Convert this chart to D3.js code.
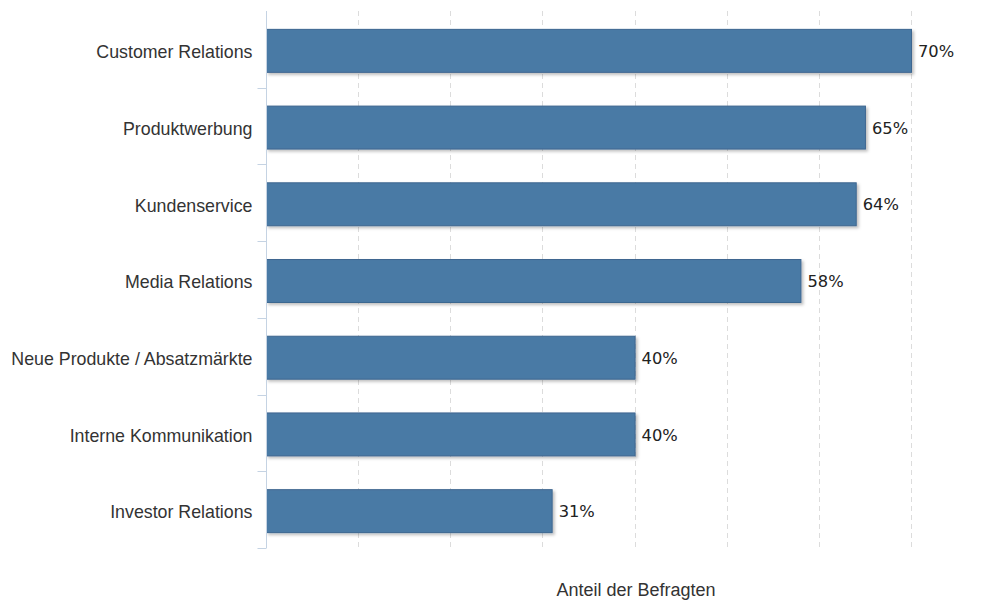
<!DOCTYPE html>
<html>
<head>
<meta charset="utf-8">
<script src="https://cdn.jsdelivr.net/npm/d3@7"></script>
<style>
  body { margin: 0; background: #fff; }
  .grid line { stroke: #dcdcdc; stroke-dasharray: 5,4; }
  .y.axis path, .y.axis line { stroke: #c5d3e3; }
  .y.axis text { font-family: "Liberation Sans", Arial, sans-serif; font-size: 17.8px; fill: #333; }
  .val { font-family: "DejaVu Sans", Verdana, sans-serif; font-size: 16.3px; fill: #222; }
  .title { font-family: "Liberation Sans", Arial, sans-serif; font-size: 18px; fill: #333; }
</style>
</head>
<body>
<div id="chart"></div>
<script>
(function () {
    "use strict";
    var categories = ["Customer Relations", "Produktwerbung", "Kundenservice", "Media Relations",
            "Neue Produkte / Absatzmärkte", "Interne Kommunikation", "Investor Relations"],
        values = [70, 65, 64, 58, 40, 40, 31],
        gridTicks = [10, 20, 30, 40, 50, 60, 70],
        axisTitle = "Anteil der Befragten",

        margin = {top: 11, left: 266},
        width = 645,
        height = 537,

        x = d3.scaleLinear().domain([0, 70]).range([0, width]),
        y = d3.scaleBand().domain(categories).range([0, height]).paddingInner(0.44).paddingOuter(0.22),

        svg = d3.select("#chart").append("svg")
            .attr("width", 998)
            .attr("height", 601),
        g = svg.append("g")
            .attr("transform", "translate(" + margin.left + "," + margin.top + ")");

    var defs = svg.append("defs");
    var f = defs.append("filter").attr("id", "shadow")
        .attr("x", "-5%").attr("y", "-20%").attr("width", "110%").attr("height", "150%");
    f.append("feDropShadow").attr("dx", 2).attr("dy", 2).attr("stdDeviation", 1.5)
        .attr("flood-color", "#000").attr("flood-opacity", 0.25);

    // dashed grid
    g.append("g").attr("class", "grid").selectAll("line")
        .data(gridTicks)
        .enter().append("line")
        .attr("x1", function (d) { return Math.round(x(d)) + 0.5; })
        .attr("x2", function (d) { return Math.round(x(d)) + 0.5; })
        .attr("y1", 0)
        .attr("y2", height);

    // bars
    g.append("g").selectAll("rect")
        .data(values)
        .enter().append("rect")
        .attr("x", 0.5)
        .attr("y", function (d, i) { return y(categories[i]) + 1.5; })
        .attr("width", function (d) { return x(d); })
        .attr("height", y.bandwidth())
        .attr("fill", "#4a7aa5")
        .attr("stroke", "#3d6690")
        .attr("stroke-width", 1)
        .attr("filter", "url(#shadow)");

    // value labels
    g.append("g").selectAll("text")
        .data(values)
        .enter().append("text")
        .attr("class", "val")
        .attr("x", function (d) { return x(d) + 7; })
        .attr("y", function (d, i) { return y(categories[i]) + y.bandwidth() / 2 + 2; })
        .attr("dy", "0.35em")
        .text(function (d) { return d + "%"; });

    // category axis with ticks between bands
    var yAxis = g.append("g")
        .attr("class", "y axis")
        .attr("transform", "translate(0.5,0)")
        .call(d3.axisLeft(y).tickSize(0).tickPadding(14));
    yAxis.select(".domain").attr("d", "M0,0V" + height);
    yAxis.selectAll(".tick text").attr("dy", "0.35em")
        .attr("transform", "translate(0,2.5)");

    var bounds = categories.map(function (c) { return y(c) - y.step() * y.paddingInner() / 2; });
    bounds.push(height);
    yAxis.selectAll(".sep")
        .data(bounds.slice(1))
        .enter().append("line")
        .attr("class", "sep")
        .attr("x1", -9).attr("x2", 0)
        .attr("y1", function (d) { return Math.round(d) + 0.5; })
        .attr("y2", function (d) { return Math.round(d) + 0.5; });

    svg.append("text")
        .attr("class", "title")
        .attr("x", 636)
        .attr("y", 596)
        .attr("text-anchor", "middle")
        .text(axisTitle);
}());
</script>
</body>
</html>
